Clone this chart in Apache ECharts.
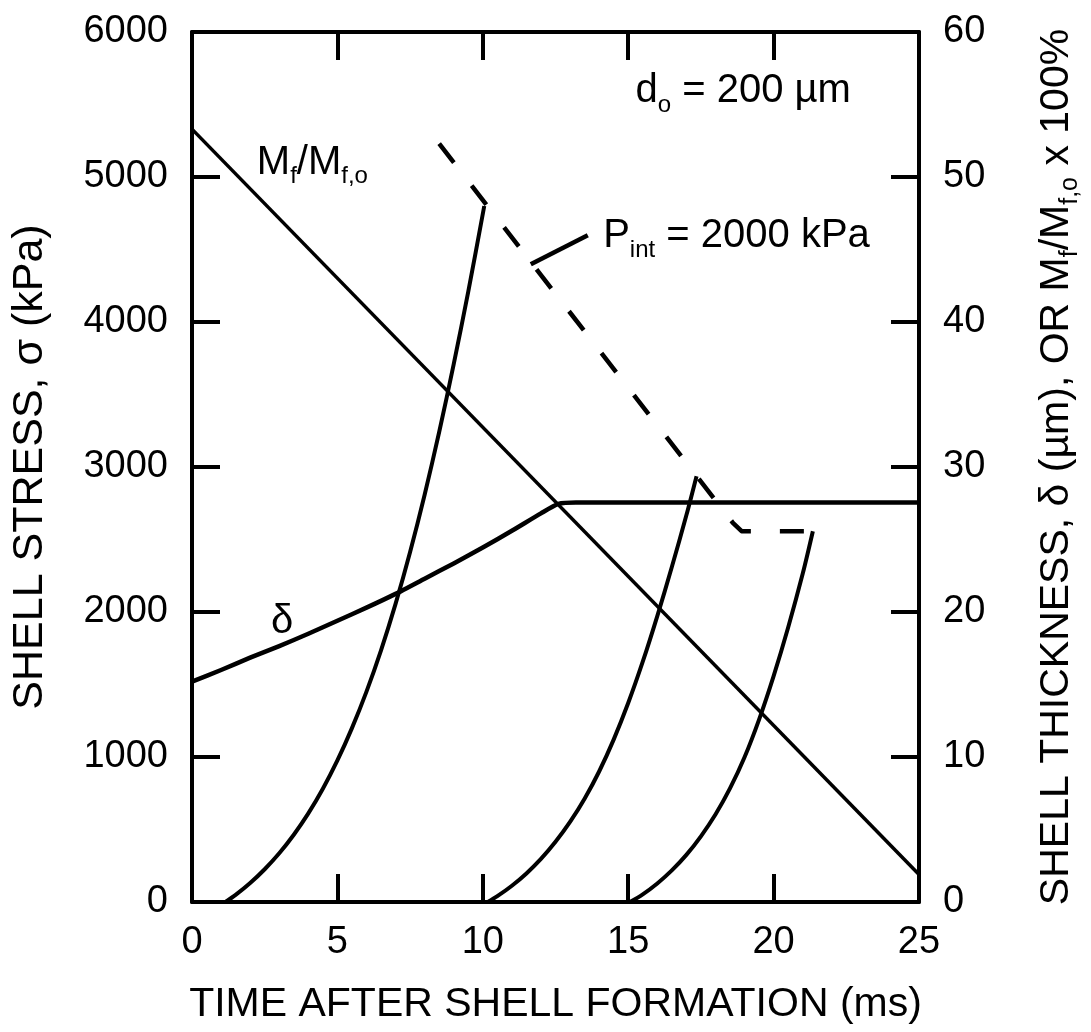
<!DOCTYPE html>
<html><head><meta charset="utf-8">
<script src="https://cdn.jsdelivr.net/npm/echarts@6/dist/echarts.min.js"></script>
<style>html,body{margin:0;padding:0;background:#fff;overflow:hidden}#c{width:1091px;height:1032px}</style>
</head><body><div id="c"></div>
<script>
// ---- data (time in ms) ----
// Shell stress curves, left axis (kPa)
const stress1 = [[1.15,0],[1.5,49],[2,131],[2.5,226],[3,336],[3.5,464],[4,611],[4.5,781],[5,976],[5.5,1199],[6,1451],[6.5,1736],[7,2056],[7.5,2414],[8,2809],[8.5,3241],[9,3709],[9.5,4209],[10.05,4800]];
const stress2 = [[10.17,0],[10.5,40],[11,112],[11.5,197],[12,297],[12.5,415],[13,552],[13.5,712],[14,900],[14.5,1120],[15,1372],[15.5,1657],[16,1972],[16.5,2310],[17,2667],[17.35,2937]];
const stress3 = [[15.06,0],[15.5,53],[16,128],[16.5,218],[17,325],[17.5,453],[18,603],[18.5,783],[19,998],[19.5,1258],[20,1558],[20.5,1893],[21,2263],[21.35,2557]];
// Failure locus P_int = 2000 kPa (dashed), left axis (kPa)
const pintLine = [[8.5,5230],[18.6,2615],[18.9,2557],[21.35,2557]];
const pintLeader = [[11.65,4398],[13.61,4598]];
// Right axis: shell thickness delta (um) and Mf/Mf,o x 100%
const mfRatio = [[0,53.3],[25,1.9]];
const thickness = [[0,15.2],[1,16.0],[2,16.85],[3,17.65],[4,18.5],[5,19.4],[6,20.3],[7,21.25],[8,22.3],[9,23.35],[10,24.45],[11,25.6],[12,26.8],[12.6,27.45],[13.2,27.55],[25,27.55]];
// ticks
const xTicks = [0,5,10,15,20,25];
const leftTicks = [0,1000,2000,3000,4000,5000,6000];
const rightTicks = [0,10,20,30,40,50,60];
// annotation anchors
const labelMf = [2.23,5100];
const labelDo = [15.25,5593];
const labelPint = [14.14,4592];
const labelDelta = [3.1,1933];

const FONT = '"Liberation Sans", Arial, Helvetica, sans-serif';
const INK = '#000';
const rich = {
  a: {fontSize: 40, fontFamily: FONT, color: INK, lineHeight: 52, textBorderWidth: 0},
  s: {fontSize: 24, fontFamily: FONT, color: INK, lineHeight: 24, verticalAlign: 'bottom', textBorderWidth: 0}
};
const richR = {
  a: {fontSize: 41, fontFamily: FONT, color: INK, lineHeight: 52},
  s: {fontSize: 25, fontFamily: FONT, color: INK, lineHeight: 24, verticalAlign: 'bottom'}
};

const el = document.getElementById('c');
const chart = echarts.init(el, null, {renderer: 'canvas', width: 1091, height: 1032});

function lineSeries(data, yIdx, width, type, smooth) {
  return {
    type: 'line', data: data, xAxisIndex: 0, yAxisIndex: yIdx,
    showSymbol: false, symbol: 'none', smooth: smooth || false,
    lineStyle: {color: INK, width: width, type: type || 'solid', cap: 'butt', join: 'round'},
    silent: true, animation: false, z: 3
  };
}

function textPoint(pos, fmt, position) {
  return {
    value: pos,
    label: {show: true, position: position, distance: 0, formatter: fmt, rich: rich,
      color: INK, opacity: 1, textBorderWidth: 0, textShadowBlur: 0,
      align: position === 'inside' ? 'center' : 'left', verticalAlign: 'middle'}
  };
}

const axisLineStyle = {onZero: false, lineStyle: {color: INK, width: 4}};
const tickStyle = {show: true, inside: true, length: 28, lineStyle: {color: INK, width: 4}};
const plain = v => String(v);

const option = {
  backgroundColor: '#fff',
  animation: false,
  grid: {left: 192, width: 741, top: 32, height: 870, containLabel: false},
  xAxis: [{
    type: 'value', min: xTicks[0], max: xTicks[xTicks.length-1], interval: 5,
    position: 'bottom',
    axisLine: axisLineStyle, axisTick: tickStyle, splitLine: {show: false},
    axisLabel: {fontSize: 38, fontFamily: FONT, color: INK, margin: 22, formatter: plain},
    name: 'TIME AFTER SHELL FORMATION (ms)', nameLocation: 'middle', nameGap: 82,
    nameTextStyle: {fontSize: 41, fontFamily: FONT, color: INK}
  }, {
    type: 'value', min: xTicks[0], max: xTicks[xTicks.length-1], interval: 5,
    position: 'top',
    axisLine: axisLineStyle, axisTick: tickStyle, splitLine: {show: false},
    axisLabel: {show: false}
  }],
  yAxis: [{
    type: 'value', min: leftTicks[0], max: leftTicks[leftTicks.length-1], interval: 1000,
    position: 'left',
    axisLine: axisLineStyle, axisTick: tickStyle, splitLine: {show: false},
    axisLabel: {fontSize: 38, fontFamily: FONT, color: INK, margin: 24, formatter: plain},
    name: 'SHELL STRESS, σ (kPa)', nameLocation: 'middle', nameGap: 140, nameRotate: 90,
    nameTextStyle: {fontSize: 43, fontFamily: FONT, color: INK}
  }, {
    type: 'value', min: rightTicks[0], max: rightTicks[rightTicks.length-1], interval: 10,
    position: 'right',
    axisLine: axisLineStyle, axisTick: tickStyle, splitLine: {show: false},
    axisLabel: {fontSize: 38, fontFamily: FONT, color: INK, margin: 24, formatter: plain},
    name: '{a|SHELL THICKNESS, δ (µm), OR M}{s|f}{a|/M}{s|f,o}{a| x 100%}',
    nameLocation: 'middle', nameGap: 112, nameRotate: 90,
    nameTextStyle: {rich: richR}
  }],
  series: [
    lineSeries(mfRatio, 1, 3.5),
    lineSeries(thickness, 1, 4.5, 'solid', 0.2),
    lineSeries(stress1, 0, 4, 'solid', 0.3),
    lineSeries(stress2, 0, 4, 'solid', 0.3),
    lineSeries(stress3, 0, 4, 'solid', 0.3),
    lineSeries(pintLine, 0, 4.5, [24, 29]),
    lineSeries(pintLeader, 0, 4.5),
    {
      type: 'scatter', xAxisIndex: 0, yAxisIndex: 0, symbolSize: 0,
      itemStyle: {color: INK, opacity: 1}, silent: true, animation: false, z: 5,
      data: [
        textPoint(labelMf, '{a|M}{s|f}{a|/M}{s|f,o}', 'right'),
        textPoint(labelDo, '{a|d}{s|o}{a| = 200 µm}', 'right'),
        textPoint(labelPint, '{a|P}{s|int}{a| = 2000 kPa}', 'right'),
        textPoint(labelDelta, '{a|δ}', 'inside')
      ]
    }
  ]
};
chart.setOption(option);
</script>
</body></html>
